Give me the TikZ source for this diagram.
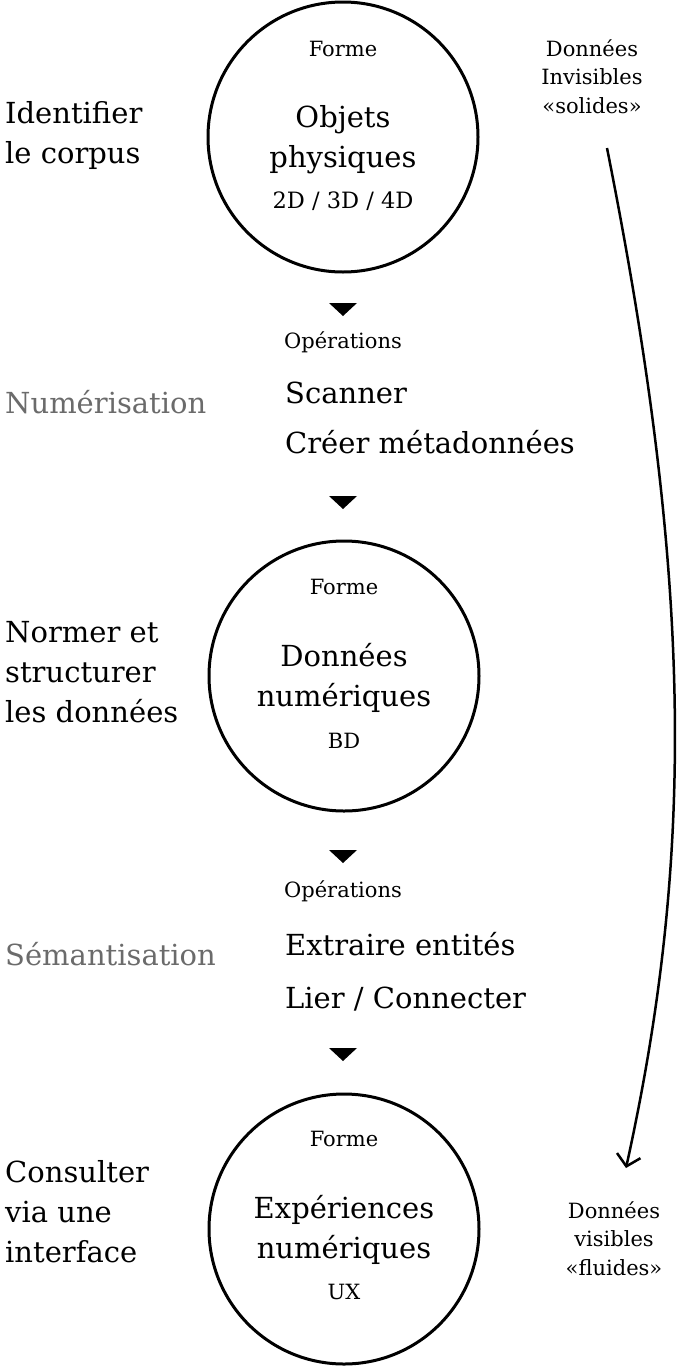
\documentclass[tikz,border=0pt]{standalone}
\usepackage{fontspec}
\setmainfont{DejaVu Serif}
\usepackage{tikz}
\usetikzlibrary{arrows.meta}
\definecolor{phase}{HTML}{6B6B6B}
\tikzset{
	big/.style={font=\fontsize{29}{40}\selectfont, align=center, inner sep=0pt},
	small/.style={font=\fontsize{21}{28.5}\selectfont, align=center, inner sep=0pt},
	stage/.style={circle, draw, line width=3pt, minimum size=270pt, inner sep=0pt}
}
\begin{document}
\begin{tikzpicture}[x=1pt, y=-1pt]
	\useasboundingbox (0,0) rectangle (682,1366);
	% les trois formes (base = ligne du bas)
	\node (phys) at (343,137) [stage] {};
		\node (forme1) at (343,56) [small, anchor=base] {Forme};
		\node (objets) at (343,167) [big, anchor=base] {Objets\\physiques};
		\node (dims) at (343,208) [small, anchor=base, font=\fontsize{22.5}{28.5}\selectfont] {2D / 3D / 4D};
	\node (num) at (344,676) [stage] {};
		\node (forme2) at (344,594) [small, anchor=base] {Forme};
		\node (donnees) at (344,706) [big, anchor=base] {Données\\numériques};
		\node (bd) at (344,748) [small, anchor=base] {BD};
	\node (exp) at (344,1229) [stage] {};
		\node (forme3) at (344,1146) [small, anchor=base] {Forme};
		\node (experiences) at (344,1258) [big, anchor=base] {Expériences\\numériques};
		\node (ux) at (344,1299) [small, anchor=base] {UX};
	% operations
	\node (ops1) at (343,348) [small, anchor=base] {Opérations};
	\node (scan) at (285,453) [big, align=left, anchor=base west] {Scanner\\[10pt]Créer métadonnées};
	\node (ops2) at (343,897) [small, anchor=base] {Opérations};
	\node (extr) at (285,1008) [big, align=left, anchor=base west] {Extraire entités\\[13pt]Lier / Connecter};
	\foreach \y in {303,496,850,1048}
		\fill (329,\y) -- ++(28,0) -- ++(-14,13) -- cycle;
	% colonne de gauche
	\node (ident) at (5,163) [big, align=left, anchor=base west] {Identifier\\le corpus};
	\node (numer) at (5,413) [big, anchor=base west, text=phase] {Numérisation};
	\node (normer) at (5,722) [big, align=left, anchor=base west] {Normer et\\structurer\\les données};
	\node (seman) at (5,965) [big, anchor=base west, text=phase] {Sémantisation};
	\node (consult) at (5,1262) [big, align=left, anchor=base west] {Consulter\\via une\\interface};
	% colonne de droite
	\node (solides) at (592,113) [small, anchor=base] {Données\\Invisibles\\«solides»};
	\node (fluides) at (614,1275) [small, anchor=base] {Données\\visibles\\«fluides»};
	\coordinate (haut) at (607,148);
	\coordinate (bas) at (626,1168);
	\draw[line width=2.5pt, -{Straight Barb[length=11pt, width=24pt, line width=2.5pt]}]
		(haut) .. controls (694,585) and (694,859) .. (bas);
\end{tikzpicture}
\end{document}
